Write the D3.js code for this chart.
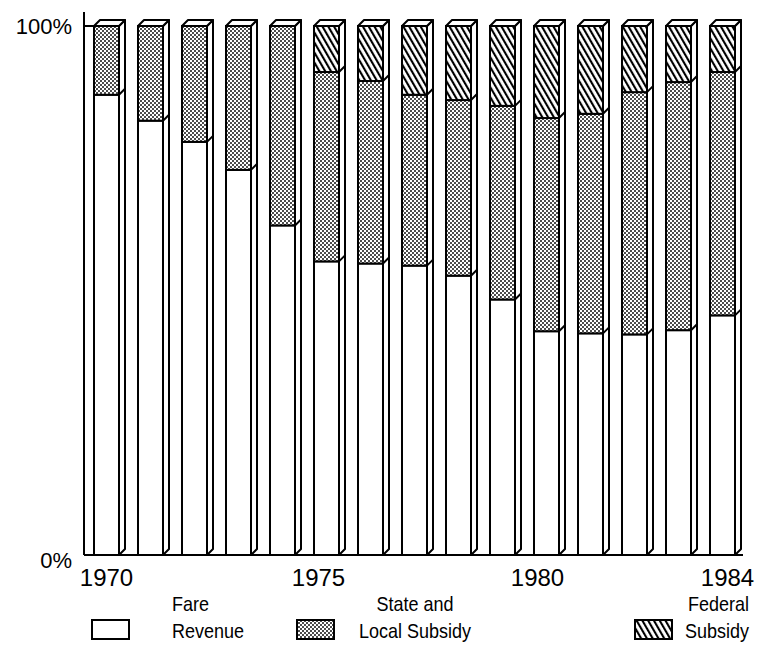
<!DOCTYPE html>
<html><head><meta charset="utf-8">
<script src="https://cdn.jsdelivr.net/npm/d3@7"></script>
<style>body{margin:0;background:#fff} text{font-family:"Liberation Sans",Arial,sans-serif;fill:#000}</style>
</head><body><svg id="c" width="762" height="647"></svg>
<script>
const years = [1970,1971,1972,1973,1974,1975,1976,1977,1978,1979,1980,1981,1982,1983,1984];
const fareRevenue       = [87.0,82.1,78.1,72.8,62.3,55.5,55.1,54.7,52.8,48.3,42.3,41.9,41.7,42.5,45.3];
const stateLocalSubsidy = [13.0,17.9,21.9,27.2,37.7,35.8,34.5,32.3,33.2,36.6,40.3,41.5,45.8,46.9,46.0];
const federalSubsidy    = [0,0,0,0,0,8.7,10.4,13.0,14.0,15.1,17.4,16.6,12.5,10.6,8.7];
const xTickYears = [1970,1975,1980,1984];
const yTickLabels = ["0%","100%"];
const legendLabels = [["Fare","Revenue"],["State and","Local Subsidy"],["Federal","Subsidy"]];

const svg = d3.select("#c");
const defs = svg.append("defs");
const st = defs.append("pattern").attr("id","stip").attr("patternUnits","userSpaceOnUse")
  .attr("width",4).attr("height",4);
st.append("rect").attr("width",4).attr("height",4).attr("fill","#fff");
st.append("circle").attr("cx",1).attr("cy",1).attr("r",0.95).attr("fill","#000");
st.append("circle").attr("cx",3).attr("cy",3).attr("r",0.95).attr("fill","#000");
const ht = defs.append("pattern").attr("id","hatch").attr("patternUnits","userSpaceOnUse")
  .attr("width",5).attr("height",5).attr("patternTransform","rotate(-30)");
ht.append("rect").attr("width",5).attr("height",5).attr("fill","#fff");
ht.append("rect").attr("x",0).attr("y",0).attr("width",2.1).attr("height",5).attr("fill","#000");

const fills = ["#fff","url(#stip)","url(#hatch)"];

const x = d3.scaleBand().domain(years).range([94,735]).paddingInner(0.4318).paddingOuter(0);
const y = d3.scaleLinear().domain([0,100]).range([555,26]);
const D = 6;
const bw = x.bandwidth();

const rows = years.map((yr,i)=>({year:yr,fare:fareRevenue[i],state:stateLocalSubsidy[i],fed:federalSubsidy[i]}));
const stack = d3.stack().keys(["fare","state","fed"])(rows);

const yAxisX = 84;
svg.append("line").attr("x1",yAxisX).attr("x2",yAxisX).attr("y1",12).attr("y2",y(0))
  .attr("stroke","#000").attr("stroke-width",2);
svg.append("line").attr("x1",yAxisX).attr("x2",x(1984)+bw+D+2).attr("y1",y(0)).attr("y2",y(0))
  .attr("stroke","#000").attr("stroke-width",2);
[0,100].forEach((v,i)=>{
  svg.append("line").attr("x1",yAxisX).attr("x2",x(1970)).attr("y1",y(v)).attr("y2",y(v))
    .attr("stroke","#000").attr("stroke-width",2);
  svg.append("text").attr("x",yAxisX-12).attr("y",y(v)+(v===0?13:8)).attr("text-anchor","end")
    .attr("font-size",22).text(yTickLabels[i]);
});

const g = svg.append("g");
rows.forEach((r,i)=>{
  const bx = x(r.year);
  const bg = g.append("g");
  bg.append("path").attr("d",`M${bx+bw},${y(0)} L${bx+bw+D},${y(0)-D} L${bx+bw+D},${y(100)-D} L${bx+bw},${y(100)} Z`)
    .attr("fill","#fff").attr("stroke","#000").attr("stroke-width",2).attr("stroke-linejoin","round");
  bg.append("path").attr("d",`M${bx},${y(100)} L${bx+D},${y(100)-D} L${bx+bw+D},${y(100)-D} L${bx+bw},${y(100)} Z`)
    .attr("fill","#fff").attr("stroke","#000").attr("stroke-width",2).attr("stroke-linejoin","round");
  stack.forEach((s,k)=>{
    const d = s[i];
    if (d[1]-d[0] <= 0) return;
    bg.append("rect").attr("x",bx).attr("y",y(d[1])).attr("width",bw).attr("height",y(d[0])-y(d[1]))
      .attr("fill",fills[k]).attr("stroke","#000").attr("stroke-width",2);
    if (d[0] > 0) {
      bg.append("line").attr("x1",bx+bw).attr("y1",y(d[0])).attr("x2",bx+bw+D).attr("y2",y(d[0])-D)
        .attr("stroke","#000").attr("stroke-width",2);
    }
  });
});

const labelShift = {1970:0,1975:-8,1980:-9,1984:5};
xTickYears.forEach(yr=>{
  svg.append("text").attr("x",x(yr)+bw/2+labelShift[yr]).attr("y",586).attr("text-anchor","middle")
    .attr("font-size",24).text(yr);
});

const legendPos = [
  {bx:92, tx:172, anchor:"start"},
  {bx:297,tx:415, anchor:"middle"},
  {bx:635,tx:749, anchor:"end"}
];
legendLabels.forEach((lab,i)=>{
  const p = legendPos[i];
  svg.append("rect").attr("x",p.bx).attr("y",620).attr("width",37).attr("height",19)
    .attr("fill",fills[i]).attr("stroke","#000").attr("stroke-width",2);
  lab.forEach((txt,j)=>{
    svg.append("text").attr("font-size",20).attr("text-anchor",p.anchor)
      .attr("transform",`translate(${p.tx},${j===0?611:638}) scale(0.9,1)`).text(txt);
  });
});
</script></body></html>
